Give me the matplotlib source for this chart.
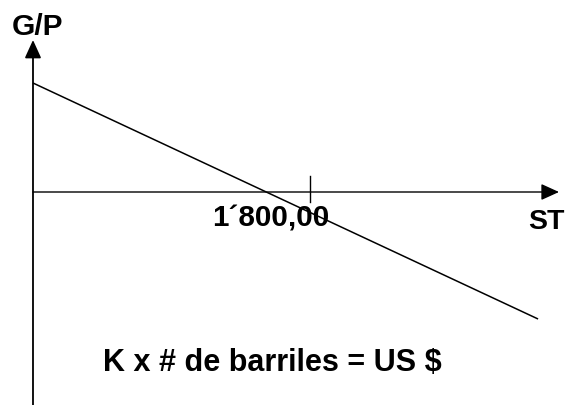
import matplotlib
matplotlib.use("Agg")
import matplotlib.pyplot as plt
from matplotlib.patches import FancyArrowPatch

# Diagram data (ST on x, G/P on y)
st_line = [0, 3282]        # ST values at the two ends of the G/P line
gp_line = [109, -127]      # G/P values at those ends
st_tick = 1800             # marked point on the ST axis
tick_label = "1´800,00"
x_label = "ST"
y_label = "G/P"
formula = "K x # de barriles = US $"

W, H = 567, 405
plt.rcParams['font.family'] = ['Liberation Sans', 'DejaVu Sans']

fig = plt.figure(figsize=(W / 100, H / 100), dpi=100)
ax = fig.add_axes([0, 0, 1, 1])
ax.set_xlim(-214.4, 3470)
ax.set_ylim(-213, 192)
ax.axis("off")

# axes with arrow heads
arrow = dict(arrowstyle="-|>,head_length=11,head_width=5", mutation_scale=1,
             color="black", shrinkA=0, shrinkB=0)
ax.add_patch(FancyArrowPatch((0, -215), (0, 152), lw=1.3, **arrow))
ax.add_patch(FancyArrowPatch((0, 0), (3418, 0), lw=1.0, **arrow))

# tick on the ST axis
ax.plot([st_tick, st_tick], [16, -10], color="black", lw=1.0)

# G/P line
ax.plot(st_line, gp_line, color="black", lw=1.1, solid_capstyle="butt")

def px(x, y):
    return x / W, 1 - y / H

txt = dict(fontweight="bold", color="black", va="baseline", ha="left")
fig.text(*px(12, 35), y_label, fontsize=21.5, **txt)
fig.text(*px(212, 227), tick_label, fontsize=21.3, **txt)
fig.text(*px(528, 229), x_label, fontsize=20.5, **txt)
fig.text(*px(103, 371), formula, fontsize=22, **txt)

fig.savefig("out.png", dpi=100)
